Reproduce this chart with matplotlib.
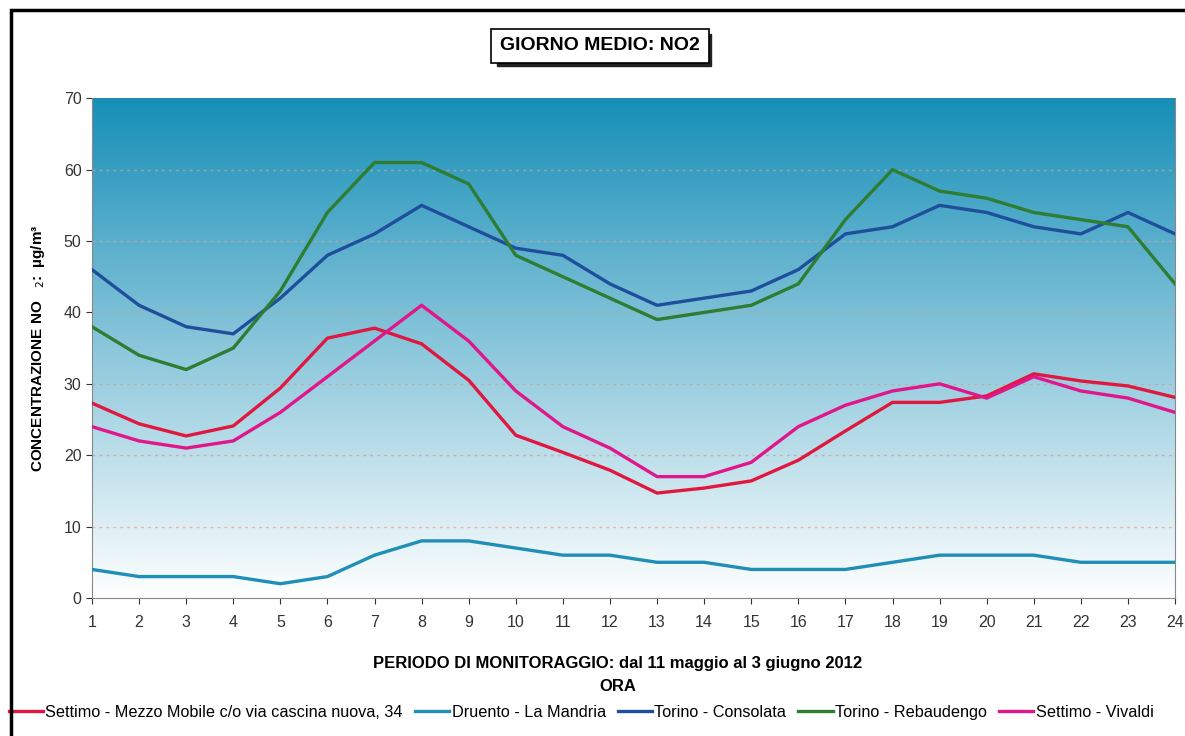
import numpy as np
import matplotlib.pyplot as plt
from matplotlib.patches import Rectangle

# Dati: concentrazione media oraria di NO2 (µg/m³)
ore = list(range(1, 25))
settimo_mm = [27.3, 24.4, 22.7, 24.1, 29.4, 36.4, 37.8, 35.6, 30.5, 22.8, 20.4, 17.9,
              14.7, 15.4, 16.4, 19.3, 23.4, 27.4, 27.4, 28.3, 31.4, 30.4, 29.7, 28.1]
druento = [4, 3, 3, 3, 2, 3, 6, 8, 8, 7, 6, 6, 5, 5, 4, 4, 4, 5, 6, 6, 6, 5, 5, 5]
consolata = [46, 41, 38, 37, 42, 48, 51, 55, 52, 49, 48, 44, 41, 42, 43, 46, 51, 52,
             55, 54, 52, 51, 54, 51]
rebaudengo = [38, 34, 32, 35, 43, 54, 61, 61, 58, 48, 45, 42, 39, 40, 41, 44, 53, 60,
              57, 56, 54, 53, 52, 44]
settimo_viv = [24, 22, 21, 22, 26, 31, 36, 41, 36, 29, 24, 21, 17, 17, 19, 24, 27, 29,
               30, 28, 31, 29, 28, 26]

nomi = ["Settimo - Mezzo Mobile c/o via cascina nuova, 34", "Druento - La Mandria",
        "Torino - Consolata", "Torino - Rebaudengo", "Settimo - Vivaldi"]
serie = [settimo_mm, druento, consolata, rebaudengo, settimo_viv]
colori = ["#e0173f", "#1f8fb5", "#1f4f9c", "#2e7d32", "#e0168a"]

plt.rcParams['font.family'] = ['Liberation Sans', 'DejaVu Sans']

fig = plt.figure(figsize=(11.85, 7.36), dpi=100)
ax = fig.add_axes([0.0776, 0.1875, 0.914, 0.679])

# sfondo sfumato
grad = np.linspace(0, 1, 256).reshape(-1, 1)
top = np.array([0.09, 0.56, 0.72])
bottom = np.array([1.0, 1.0, 1.0])
img = grad[:, :, None] * (bottom - top) + top  # riga 0 = alto
ax.imshow(img, extent=[0, 1, 0, 1], transform=ax.transAxes, aspect='auto',
          zorder=0, interpolation='bicubic')

for y in range(10, 70, 10):
    ax.axhline(y, color="#eba58a" if y == 10 else "#c0a8a0", ls=(0, (2, 3)),
               lw=1, alpha=0.8, zorder=1)

for s, n, c in zip(serie, nomi, colori):
    ax.plot(ore, s, color=c, lw=2.4, label=n, zorder=3)

ax.set_xlim(1, 24)
ax.set_ylim(0, 70)
ax.set_xticks(ore)
ax.set_yticks(range(0, 71, 10))
ax.tick_params(labelsize=11.5, colors="#333333", length=4, direction='out')
ax.tick_params(axis='x', pad=8)
for sp in ax.spines.values():
    sp.set_color("#888888")
ax.spines['top'].set_visible(False)

ax.set_ylabel("CONCENTRAZIONE NO   $_2$:  µg/m³", fontsize=11, fontweight='bold',
              labelpad=12)

# titolo in riquadro con ombra
fig.patches.append(Rectangle((0.4194, 0.9103), 0.1806, 0.0435, transform=fig.transFigure,
                             color='#222222', zorder=0))
fig.text(0.5063, 0.9375, "GIORNO MEDIO: NO2", ha='center', va='center', fontsize=14,
         fontweight='bold',
         bbox=dict(boxstyle='square,pad=0.45', fc='white', ec='black', lw=1.2))

fig.text(0.521, 0.099, "PERIODO DI MONITORAGGIO: dal 11 maggio al 3 giugno 2012",
         ha='center', va='center', fontsize=12, fontweight='bold')
fig.text(0.521, 0.067, "ORA", ha='center', va='center', fontsize=12, fontweight='bold')

fig.legend(loc='center left', bbox_to_anchor=(-0.005, 0.032), ncol=5, frameon=False,
           fontsize=11.7, handlelength=2.1, columnspacing=0.75, handletextpad=0.15)

# cornice
fig.patches.append(Rectangle((0.009, -0.01), 1.2, 0.997, transform=fig.transFigure,
                             fill=False, ec='black', lw=2.5, zorder=10))

fig.savefig("out.png", dpi=100)
